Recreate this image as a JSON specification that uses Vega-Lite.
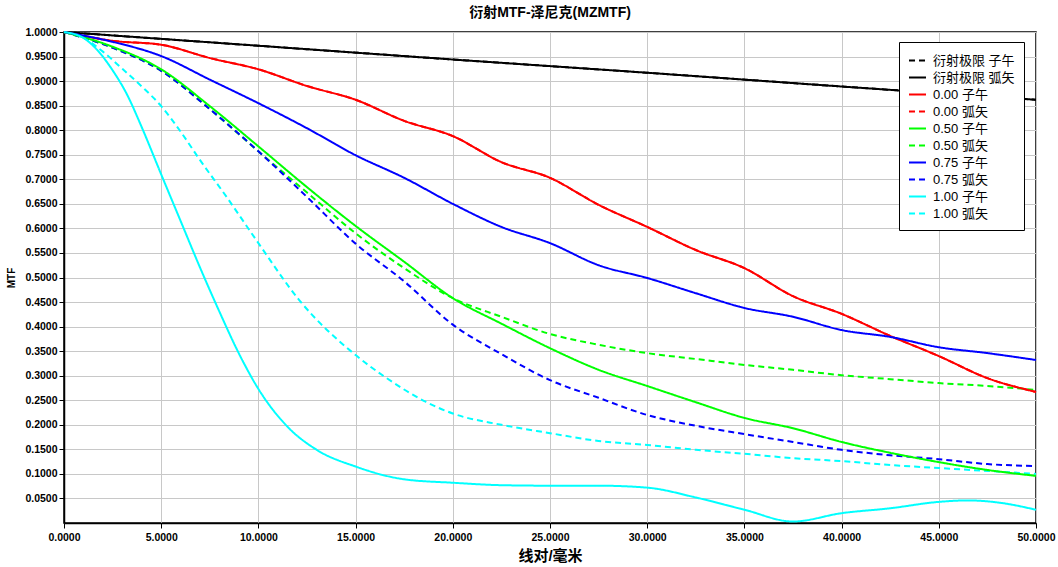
{
  "$schema": "https://vega.github.io/schema/vega-lite/v6.json",
  "width": 972,
  "height": 491,
  "autosize": {"type": "none"},
  "padding": {"left": 64, "top": 32, "right": 22, "bottom": 44},
  "background": "white",
  "title": {
    "text": "衍射MTF-泽尼克(MZMTF)",
    "font": "Liberation Sans, Noto Sans CJK SC",
    "fontSize": 14,
    "fontWeight": "bold",
    "color": "black",
    "offset": 7,
    "anchor": "middle"
  },
  "config": {
    "view": {"stroke": "black", "strokeWidth": 1.5},
    "axis": {
      "labelFont": "Liberation Sans",
      "labelFontWeight": "bold",
      "labelFontSize": 10.5,
      "labelColor": "black",
      "titleFont": "Liberation Sans, Noto Sans CJK SC",
      "titleColor": "black",
      "titleFontWeight": "bold",
      "domainColor": "black",
      "domainWidth": 1.5,
      "tickColor": "black",
      "tickSize": 5,
      "gridColor": "#c8c8c8",
      "gridWidth": 1,
      "gridOpacity": 1
    },
    "legend": {
      "labelFont": "Liberation Sans, Noto Sans CJK SC",
      "labelFontSize": 13,
      "labelColor": "black"
    }
  },
  "data": {
    "values": [
      {"x": 0, "y": 1, "s": "衍射极限 子午"}, {"x": 10, "y": 0.972, "s": "衍射极限 子午"}, {"x": 20, "y": 0.944, "s": "衍射极限 子午"}, {"x": 30, "y": 0.917, "s": "衍射极限 子午"}, {"x": 40, "y": 0.889, "s": "衍射极限 子午"}, {"x": 50, "y": 0.862, "s": "衍射极限 子午"},
      {"x": 0, "y": 1, "s": "衍射极限 弧矢"}, {"x": 10, "y": 0.972, "s": "衍射极限 弧矢"}, {"x": 20, "y": 0.944, "s": "衍射极限 弧矢"}, {"x": 30, "y": 0.917, "s": "衍射极限 弧矢"}, {"x": 40, "y": 0.889, "s": "衍射极限 弧矢"}, {"x": 50, "y": 0.862, "s": "衍射极限 弧矢"},

      {"x": 0, "y": 1, "s": "0.00 子午"}, {"x": 2.5, "y": 0.982, "s": "0.00 子午"}, {"x": 5, "y": 0.974, "s": "0.00 子午"}, {"x": 7.5, "y": 0.947, "s": "0.00 子午"}, {"x": 10, "y": 0.924, "s": "0.00 子午"}, {"x": 12.5, "y": 0.89, "s": "0.00 子午"}, {"x": 15, "y": 0.862, "s": "0.00 子午"}, {"x": 17.5, "y": 0.819, "s": "0.00 子午"}, {"x": 20, "y": 0.788, "s": "0.00 子午"}, {"x": 22.5, "y": 0.735, "s": "0.00 子午"}, {"x": 25, "y": 0.703, "s": "0.00 子午"}, {"x": 27.5, "y": 0.648, "s": "0.00 子午"}, {"x": 30, "y": 0.603, "s": "0.00 子午"}, {"x": 32.5, "y": 0.556, "s": "0.00 子午"}, {"x": 35, "y": 0.519, "s": "0.00 子午"}, {"x": 37.5, "y": 0.462, "s": "0.00 子午"}, {"x": 40, "y": 0.426, "s": "0.00 子午"}, {"x": 42.5, "y": 0.381, "s": "0.00 子午"}, {"x": 45, "y": 0.34, "s": "0.00 子午"}, {"x": 47.5, "y": 0.295, "s": "0.00 子午"}, {"x": 50, "y": 0.267, "s": "0.00 子午"},
      {"x": 0, "y": 1, "s": "0.00 弧矢"}, {"x": 2.5, "y": 0.982, "s": "0.00 弧矢"}, {"x": 5, "y": 0.974, "s": "0.00 弧矢"}, {"x": 7.5, "y": 0.947, "s": "0.00 弧矢"}, {"x": 10, "y": 0.924, "s": "0.00 弧矢"}, {"x": 12.5, "y": 0.89, "s": "0.00 弧矢"}, {"x": 15, "y": 0.862, "s": "0.00 弧矢"}, {"x": 17.5, "y": 0.819, "s": "0.00 弧矢"}, {"x": 20, "y": 0.788, "s": "0.00 弧矢"}, {"x": 22.5, "y": 0.735, "s": "0.00 弧矢"}, {"x": 25, "y": 0.703, "s": "0.00 弧矢"}, {"x": 27.5, "y": 0.648, "s": "0.00 弧矢"}, {"x": 30, "y": 0.603, "s": "0.00 弧矢"}, {"x": 32.5, "y": 0.556, "s": "0.00 弧矢"}, {"x": 35, "y": 0.519, "s": "0.00 弧矢"}, {"x": 37.5, "y": 0.462, "s": "0.00 弧矢"}, {"x": 40, "y": 0.426, "s": "0.00 弧矢"}, {"x": 42.5, "y": 0.381, "s": "0.00 弧矢"}, {"x": 45, "y": 0.34, "s": "0.00 弧矢"}, {"x": 47.5, "y": 0.295, "s": "0.00 弧矢"}, {"x": 50, "y": 0.267, "s": "0.00 弧矢"},

      {"x": 0, "y": 1, "s": "0.50 子午"}, {"x": 2.5, "y": 0.97, "s": "0.50 子午"}, {"x": 5, "y": 0.924, "s": "0.50 子午"}, {"x": 7.5, "y": 0.849, "s": "0.50 子午"}, {"x": 10, "y": 0.767, "s": "0.50 子午"}, {"x": 12.5, "y": 0.684, "s": "0.50 子午"}, {"x": 15, "y": 0.605, "s": "0.50 子午"}, {"x": 17.5, "y": 0.532, "s": "0.50 子午"}, {"x": 20, "y": 0.458, "s": "0.50 子午"}, {"x": 22.5, "y": 0.406, "s": "0.50 子午"}, {"x": 25, "y": 0.356, "s": "0.50 子午"}, {"x": 27.5, "y": 0.312, "s": "0.50 子午"}, {"x": 30, "y": 0.279, "s": "0.50 子午"}, {"x": 32.5, "y": 0.246, "s": "0.50 子午"}, {"x": 35, "y": 0.214, "s": "0.50 子午"}, {"x": 37.5, "y": 0.193, "s": "0.50 子午"}, {"x": 40, "y": 0.165, "s": "0.50 子午"}, {"x": 42.5, "y": 0.143, "s": "0.50 子午"}, {"x": 45, "y": 0.124, "s": "0.50 子午"}, {"x": 47.5, "y": 0.108, "s": "0.50 子午"}, {"x": 50, "y": 0.096, "s": "0.50 子午"},
      {"x": 0, "y": 1, "s": "0.50 弧矢"}, {"x": 2.5, "y": 0.968, "s": "0.50 弧矢"}, {"x": 5, "y": 0.921, "s": "0.50 弧矢"}, {"x": 7.5, "y": 0.843, "s": "0.50 弧矢"}, {"x": 10, "y": 0.757, "s": "0.50 弧矢"}, {"x": 12.5, "y": 0.673, "s": "0.50 弧矢"}, {"x": 15, "y": 0.59, "s": "0.50 弧矢"}, {"x": 17.5, "y": 0.519, "s": "0.50 弧矢"}, {"x": 20, "y": 0.458, "s": "0.50 弧矢"}, {"x": 22.5, "y": 0.42, "s": "0.50 弧矢"}, {"x": 25, "y": 0.385, "s": "0.50 弧矢"}, {"x": 27.5, "y": 0.363, "s": "0.50 弧矢"}, {"x": 30, "y": 0.346, "s": "0.50 弧矢"}, {"x": 32.5, "y": 0.334, "s": "0.50 弧矢"}, {"x": 35, "y": 0.322, "s": "0.50 弧矢"}, {"x": 37.5, "y": 0.312, "s": "0.50 弧矢"}, {"x": 40, "y": 0.301, "s": "0.50 弧矢"}, {"x": 42.5, "y": 0.293, "s": "0.50 弧矢"}, {"x": 45, "y": 0.285, "s": "0.50 弧矢"}, {"x": 47.5, "y": 0.279, "s": "0.50 弧矢"}, {"x": 50, "y": 0.271, "s": "0.50 弧矢"},

      {"x": 0, "y": 1, "s": "0.75 子午"}, {"x": 2.5, "y": 0.98, "s": "0.75 子午"}, {"x": 5, "y": 0.951, "s": "0.75 子午"}, {"x": 7.5, "y": 0.903, "s": "0.75 子午"}, {"x": 10, "y": 0.855, "s": "0.75 子午"}, {"x": 12.5, "y": 0.804, "s": "0.75 子午"}, {"x": 15, "y": 0.749, "s": "0.75 子午"}, {"x": 17.5, "y": 0.703, "s": "0.75 子午"}, {"x": 20, "y": 0.65, "s": "0.75 子午"}, {"x": 22.5, "y": 0.603, "s": "0.75 子午"}, {"x": 25, "y": 0.57, "s": "0.75 子午"}, {"x": 27.5, "y": 0.525, "s": "0.75 子午"}, {"x": 30, "y": 0.499, "s": "0.75 子午"}, {"x": 32.5, "y": 0.468, "s": "0.75 子午"}, {"x": 35, "y": 0.438, "s": "0.75 子午"}, {"x": 37.5, "y": 0.42, "s": "0.75 子午"}, {"x": 40, "y": 0.393, "s": "0.75 子午"}, {"x": 42.5, "y": 0.379, "s": "0.75 子午"}, {"x": 45, "y": 0.358, "s": "0.75 子午"}, {"x": 47.5, "y": 0.346, "s": "0.75 子午"}, {"x": 50, "y": 0.332, "s": "0.75 子午"},
      {"x": 0, "y": 1, "s": "0.75 弧矢"}, {"x": 2.5, "y": 0.968, "s": "0.75 弧矢"}, {"x": 5, "y": 0.921, "s": "0.75 弧矢"}, {"x": 7.5, "y": 0.843, "s": "0.75 弧矢"}, {"x": 10, "y": 0.757, "s": "0.75 弧矢"}, {"x": 12.5, "y": 0.664, "s": "0.75 弧矢"}, {"x": 15, "y": 0.569, "s": "0.75 弧矢"}, {"x": 17.5, "y": 0.492, "s": "0.75 弧矢"}, {"x": 20, "y": 0.404, "s": "0.75 弧矢"}, {"x": 22.5, "y": 0.344, "s": "0.75 弧矢"}, {"x": 25, "y": 0.291, "s": "0.75 弧矢"}, {"x": 27.5, "y": 0.255, "s": "0.75 弧矢"}, {"x": 30, "y": 0.22, "s": "0.75 弧矢"}, {"x": 32.5, "y": 0.198, "s": "0.75 弧矢"}, {"x": 35, "y": 0.181, "s": "0.75 弧矢"}, {"x": 37.5, "y": 0.165, "s": "0.75 弧矢"}, {"x": 40, "y": 0.149, "s": "0.75 弧矢"}, {"x": 42.5, "y": 0.138, "s": "0.75 弧矢"}, {"x": 45, "y": 0.13, "s": "0.75 弧矢"}, {"x": 47.5, "y": 0.12, "s": "0.75 弧矢"}, {"x": 50, "y": 0.116, "s": "0.75 弧矢"},

      {"x": 0, "y": 1, "s": "1.00 子午"}, {"x": 1, "y": 0.988, "s": "1.00 子午"}, {"x": 1.5, "y": 0.972, "s": "1.00 子午"}, {"x": 2.5, "y": 0.922, "s": "1.00 子午"}, {"x": 3.25, "y": 0.872, "s": "1.00 子午"}, {"x": 4, "y": 0.806, "s": "1.00 子午"}, {"x": 5, "y": 0.71, "s": "1.00 子午"}, {"x": 6, "y": 0.615, "s": "1.00 子午"}, {"x": 7, "y": 0.52, "s": "1.00 子午"}, {"x": 8, "y": 0.43, "s": "1.00 子午"}, {"x": 9, "y": 0.345, "s": "1.00 子午"}, {"x": 10, "y": 0.273, "s": "1.00 子午"}, {"x": 11.5, "y": 0.196, "s": "1.00 子午"}, {"x": 13, "y": 0.149, "s": "1.00 子午"}, {"x": 15, "y": 0.115, "s": "1.00 子午"}, {"x": 17.5, "y": 0.089, "s": "1.00 子午"}, {"x": 20, "y": 0.082, "s": "1.00 子午"}, {"x": 22.5, "y": 0.077, "s": "1.00 子午"}, {"x": 25, "y": 0.076, "s": "1.00 子午"}, {"x": 27.5, "y": 0.076, "s": "1.00 子午"}, {"x": 30, "y": 0.072, "s": "1.00 子午"}, {"x": 32.5, "y": 0.052, "s": "1.00 子午"}, {"x": 35, "y": 0.027, "s": "1.00 子午"}, {"x": 37.5, "y": 0.003, "s": "1.00 子午"}, {"x": 40, "y": 0.02, "s": "1.00 子午"}, {"x": 42.5, "y": 0.03, "s": "1.00 子午"}, {"x": 45, "y": 0.043, "s": "1.00 子午"}, {"x": 46.5, "y": 0.046, "s": "1.00 子午"}, {"x": 48, "y": 0.042, "s": "1.00 子午"}, {"x": 50, "y": 0.027, "s": "1.00 子午"},
      {"x": 0, "y": 1, "s": "1.00 弧矢"}, {"x": 1, "y": 0.988, "s": "1.00 弧矢"}, {"x": 2, "y": 0.96, "s": "1.00 弧矢"}, {"x": 3, "y": 0.925, "s": "1.00 弧矢"}, {"x": 4, "y": 0.889, "s": "1.00 弧矢"}, {"x": 5, "y": 0.849, "s": "1.00 弧矢"}, {"x": 6, "y": 0.797, "s": "1.00 弧矢"}, {"x": 7, "y": 0.739, "s": "1.00 弧矢"}, {"x": 8.4, "y": 0.662, "s": "1.00 弧矢"}, {"x": 10, "y": 0.57, "s": "1.00 弧矢"}, {"x": 12.1, "y": 0.454, "s": "1.00 弧矢"}, {"x": 15, "y": 0.342, "s": "1.00 弧矢"}, {"x": 16.6, "y": 0.295, "s": "1.00 弧矢"}, {"x": 18.6, "y": 0.247, "s": "1.00 弧矢"}, {"x": 20, "y": 0.223, "s": "1.00 弧矢"}, {"x": 22.5, "y": 0.2, "s": "1.00 弧矢"}, {"x": 25, "y": 0.183, "s": "1.00 弧矢"}, {"x": 27.5, "y": 0.167, "s": "1.00 弧矢"}, {"x": 30, "y": 0.159, "s": "1.00 弧矢"}, {"x": 32.5, "y": 0.149, "s": "1.00 弧矢"}, {"x": 35, "y": 0.141, "s": "1.00 弧矢"}, {"x": 37.5, "y": 0.132, "s": "1.00 弧矢"}, {"x": 40, "y": 0.126, "s": "1.00 弧矢"}, {"x": 42.5, "y": 0.118, "s": "1.00 弧矢"}, {"x": 45, "y": 0.112, "s": "1.00 弧矢"}, {"x": 47.5, "y": 0.106, "s": "1.00 弧矢"}, {"x": 50, "y": 0.1, "s": "1.00 弧矢"}
    ]
  },
  "encoding": {
    "x": {
      "field": "x", "type": "quantitative",
      "scale": {"domain": [0, 50], "nice": false, "zero": false},
      "axis": {"values": [0, 5, 10, 15, 20, 25, 30, 35, 40, 45, 50], "format": ".4f", "title": "线对/毫米", "titleFontSize": 15, "titlePadding": 6, "labelPadding": 4, "labelOverlap": false, "labelFlush": false, "labelBound": false}
    },
    "y": {
      "field": "y", "type": "quantitative",
      "scale": {"domain": [0, 1], "nice": false},
      "axis": {"values": [0.05, 0.1, 0.15, 0.2, 0.25, 0.3, 0.35, 0.4, 0.45, 0.5, 0.55, 0.6, 0.65, 0.7, 0.75, 0.8, 0.85, 0.9, 0.95, 1.0], "format": ".4f", "title": "MTF", "titleFontSize": 10, "titlePadding": 8, "labelPadding": 2, "labelOverlap": false, "labelFlush": false, "labelBound": false}
    },
    "color": {
      "field": "s", "type": "nominal",
      "scale": {
        "domain": ["衍射极限 子午", "衍射极限 弧矢", "0.00 子午", "0.00 弧矢", "0.50 子午", "0.50 弧矢", "0.75 子午", "0.75 弧矢", "1.00 子午", "1.00 弧矢"],
        "range": ["#000000", "#000000", "#ff0000", "#ff0000", "#00ff00", "#00ff00", "#0000ff", "#0000ff", "#00ffff", "#00ffff"]
      },
      "legend": {
        "title": null,
        "orient": "none",
        "legendX": 835,
        "legendY": 10,
        "fillColor": "white",
        "strokeColor": "black",
        "padding": 9,
        "symbolType": "stroke",
        "symbolSize": 289,
        "symbolStrokeWidth": 2,
        "rowPadding": 0,
        "labelOffset": 6
      }
    },
    "strokeDash": {
      "field": "s", "type": "nominal",
      "scale": {
        "domain": ["衍射极限 子午", "衍射极限 弧矢", "0.00 子午", "0.00 弧矢", "0.50 子午", "0.50 弧矢", "0.75 子午", "0.75 弧矢", "1.00 子午", "1.00 弧矢"],
        "range": [[6, 4], [1, 0], [1, 0], [6, 4], [1, 0], [6, 4], [1, 0], [6, 4], [1, 0], [6, 4]]
      },
      "legend": {
        "title": null,
        "orient": "none",
        "legendX": 835,
        "legendY": 10,
        "fillColor": "white",
        "strokeColor": "black",
        "padding": 9,
        "symbolType": "stroke",
        "symbolSize": 289,
        "symbolStrokeWidth": 2,
        "rowPadding": 0,
        "labelOffset": 6
      }
    }
  },
  "layer": [
    {
      "transform": [{"filter": {"field": "s", "oneOf": ["衍射极限 子午", "0.00 弧矢", "0.50 弧矢", "0.75 弧矢", "1.00 弧矢"]}}],
      "mark": {"type": "line", "interpolate": "monotone", "strokeWidth": 2}
    },
    {
      "transform": [{"filter": {"field": "s", "oneOf": ["衍射极限 弧矢", "0.00 子午", "0.50 子午", "0.75 子午", "1.00 子午"]}}],
      "mark": {"type": "line", "interpolate": "monotone", "strokeWidth": 2}
    }
  ]
}
